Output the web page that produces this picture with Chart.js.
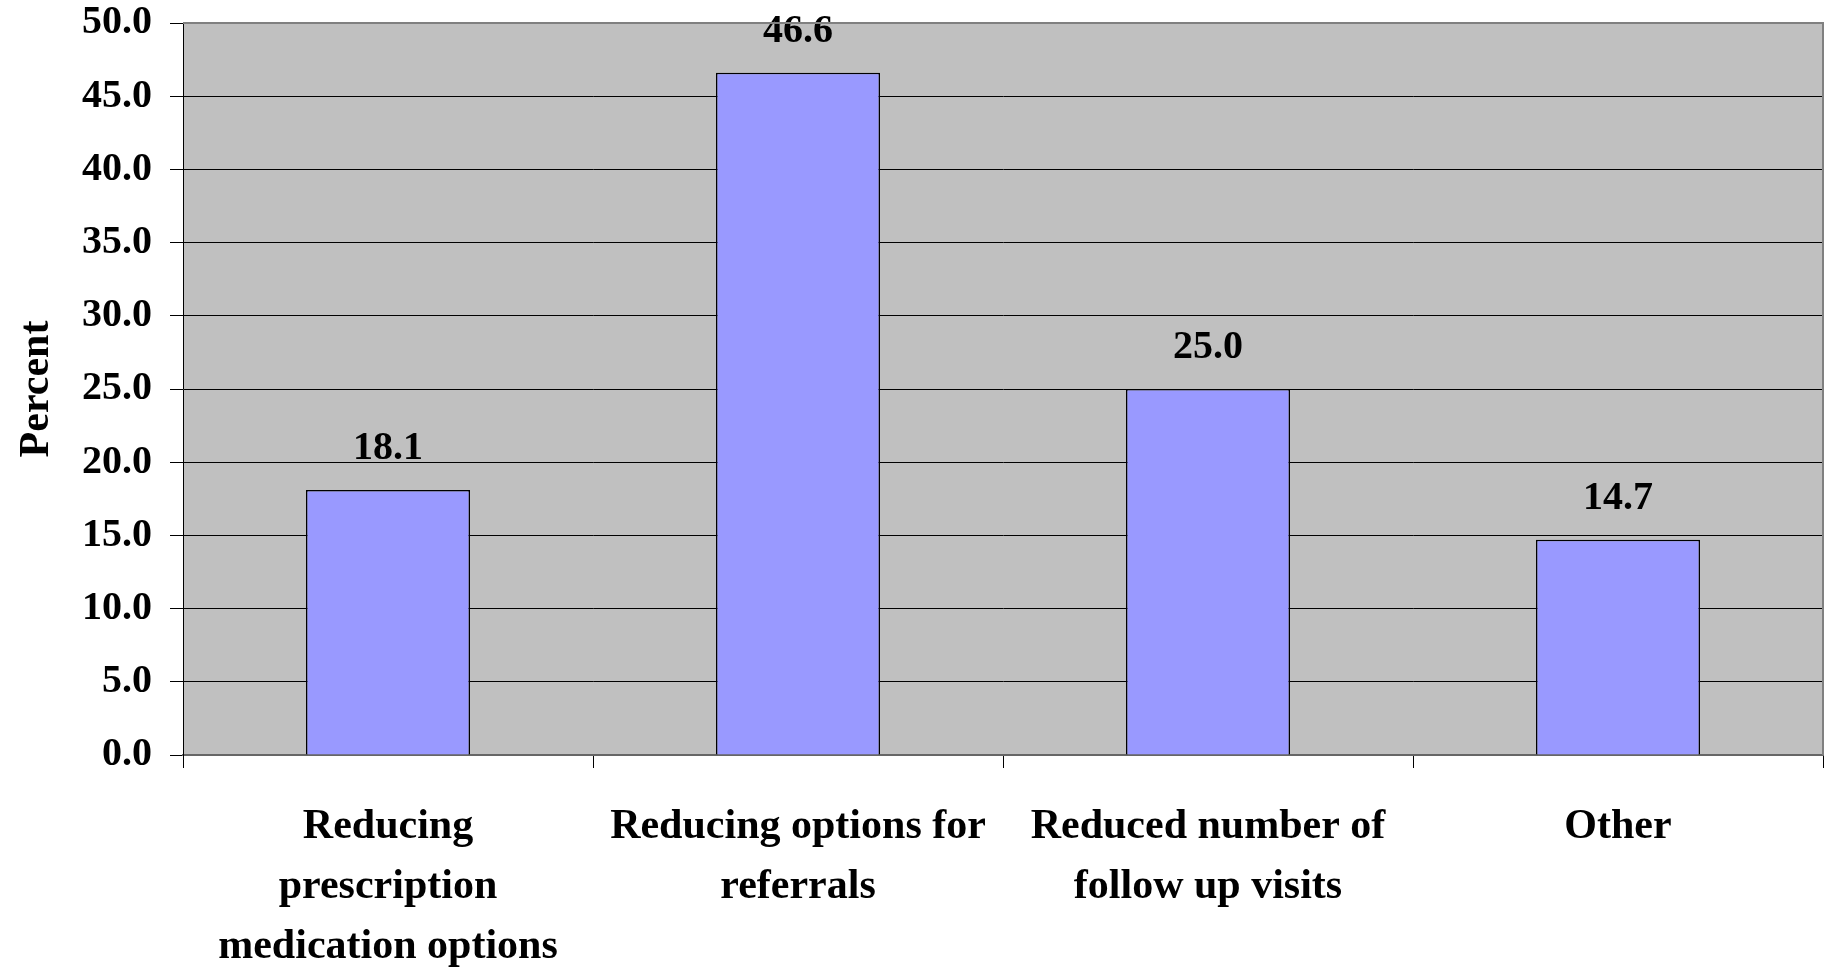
<!DOCTYPE html>
<html>
<head>
<meta charset="utf-8">
<script src="https://cdn.jsdelivr.net/npm/chart.js@4.4.0/dist/chart.umd.min.js"></script>
<style>
  html, body { margin: 0; padding: 0; background: #fff; }
  #wrap { width: 1829px; height: 973px; }
</style>
</head>
<body>
<div id="wrap"><canvas id="chart" width="1829" height="973"></canvas></div>
<script>
const categories = [
    ["Reducing", "prescription", "medication options"],
    ["Reducing options for", "referrals"],
    ["Reduced number of", "follow up visits"],
    ["Other"]
];
const percents = [18.1, 46.6, 25.0, 14.7];
const yTicks = [0, 5, 10, 15, 20, 25, 30, 35, 40, 45, 50];

const FONT = "'Liberation Serif', 'Times New Roman', serif";

// grey plot background, plus grey top/right frame
const plotFrame = {
    id: 'plotFrame',
    beforeDraw(chart) {
        const { ctx, chartArea: a } = chart;
        ctx.save();
        ctx.fillStyle = '#C0C0C0';
        ctx.fillRect(a.left, a.top, a.right - a.left, a.bottom - a.top);
        ctx.restore();
    },
    afterDraw(chart) {
        const { ctx, chartArea: a } = chart;
        ctx.save();
        ctx.strokeStyle = '#808080';
        ctx.lineWidth = 2;
        ctx.beginPath();
        ctx.moveTo(a.left, a.top);
        ctx.lineTo(a.right, a.top);
        ctx.lineTo(a.right, a.bottom);
        ctx.stroke();
        ctx.restore();
    }
};

// value labels above each bar
const valueLabels = {
    id: 'valueLabels',
    afterDatasetsDraw(chart) {
        const ctx = chart.ctx;
        const meta = chart.getDatasetMeta(0);
        ctx.save();
        ctx.fillStyle = '#000';
        ctx.font = 'bold 40px ' + FONT;
        ctx.textAlign = 'center';
        ctx.textBaseline = 'alphabetic';
        meta.data.forEach((bar, i) => {
            ctx.fillText(percents[i].toFixed(1), bar.x, bar.y - 31);
        });
        ctx.restore();
    }
};

new Chart(document.getElementById('chart').getContext('2d'), {
    type: 'bar',
    data: {
        labels: categories,
        datasets: [{
            data: percents,
            backgroundColor: '#9999FF',
            borderColor: '#000',
            borderWidth: 1.5,
            barPercentage: 0.4,
            categoryPercentage: 1.0
        }]
    },
    options: {
        responsive: false,
        animation: false,
        layout: { padding: { top: 23, right: 6, left: 0, bottom: 0 } },
        plugins: {
            legend: { display: false },
            tooltip: { enabled: false }
        },
        scales: {
            x: {
                grid: {
                    offset: true,
                    drawOnChartArea: false,
                    drawTicks: true,
                    tickLength: 13,
                    color: '#000'
                },
                border: { color: '#666', width: 2 },
                ticks: {
                    color: '#000',
                    padding: 29,
                    maxRotation: 0,
                    autoSkip: false,
                    font: { family: FONT, size: 42, weight: 'bold', lineHeight: 1.43 }
                },
                afterFit(scale) {
                    scale.height = 218;
                    scale.paddingLeft = 0;
                    scale.paddingRight = 0;
                }
            },
            y: {
                min: 0,
                max: 50,
                afterBuildTicks(scale) {
                    scale.ticks = yTicks.map(v => ({ value: v }));
                },
                grid: {
                    color: '#000',
                    lineWidth: 1,
                    drawTicks: true,
                    tickLength: 13
                },
                border: { color: '#000', width: 1 },
                ticks: {
                    color: '#000',
                    padding: 18,
                    font: { family: FONT, size: 40, weight: 'bold' },
                    callback: v => Number(v).toFixed(1)
                },
                title: {
                    display: true,
                    text: 'Percent',
                    color: '#000',
                    padding: { top: 12, bottom: 0 },
                    font: { family: FONT, size: 42, weight: 'bold' }
                },
                afterFit(scale) {
                    scale.width = 183;
                    scale.paddingTop = 0;
                    scale.paddingBottom = 0;
                }
            }
        }
    },
    plugins: [plotFrame, valueLabels]
});
</script>
</body>
</html>
